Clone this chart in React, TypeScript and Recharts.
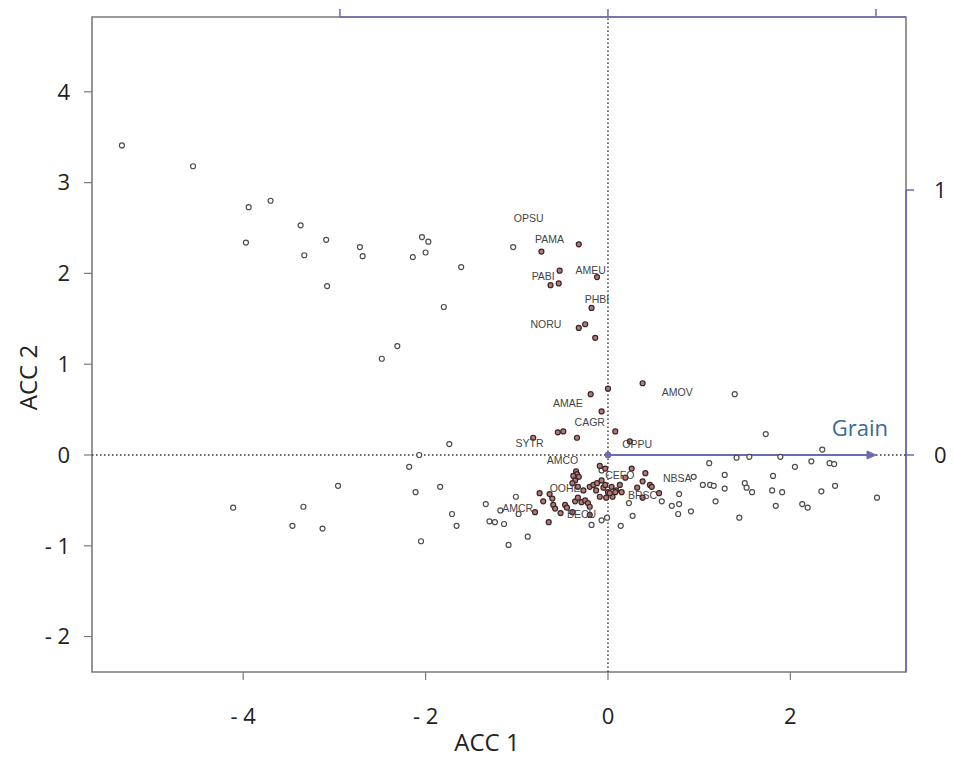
import React from 'react';
import { ScatterChart, Scatter, XAxis, YAxis, ReferenceLine, ReferenceArea, Label } from 'recharts';

// ---- data ----
const grayPoints = [
  { x: -5.33, y: 3.41 }, { x: -4.55, y: 3.18 }, { x: -3.94, y: 2.73 }, { x: -3.70, y: 2.80 },
  { x: -3.97, y: 2.34 }, { x: -3.37, y: 2.53 }, { x: -3.33, y: 2.20 }, { x: -3.09, y: 2.37 },
  { x: -3.08, y: 1.86 }, { x: -2.72, y: 2.29 }, { x: -2.69, y: 2.19 }, { x: -2.14, y: 2.18 },
  { x: -2.04, y: 2.40 }, { x: -1.97, y: 2.35 }, { x: -2.00, y: 2.23 }, { x: -1.61, y: 2.07 },
  { x: -1.80, y: 1.63 }, { x: -2.31, y: 1.20 }, { x: -2.48, y: 1.06 }, { x: -1.04, y: 2.29 },
  { x: -1.74, y: 0.12 }, { x: -2.07, y: 0.0 }, { x: -2.18, y: -0.13 }, { x: -2.11, y: -0.41 },
  { x: -1.84, y: -0.35 }, { x: -2.96, y: -0.34 }, { x: -4.11, y: -0.58 }, { x: -3.34, y: -0.57 },
  { x: -3.46, y: -0.78 }, { x: -3.13, y: -0.81 }, { x: -2.05, y: -0.95 }, { x: -1.71, y: -0.65 },
  { x: -1.66, y: -0.78 }, { x: -1.34, y: -0.54 }, { x: -1.18, y: -0.61 }, { x: -1.01, y: -0.46 },
  { x: -0.98, y: -0.65 }, { x: -1.30, y: -0.73 }, { x: -1.24, y: -0.74 }, { x: -1.14, y: -0.76 },
  { x: -0.88, y: -0.90 }, { x: -1.09, y: -0.99 },
  { x: 1.39, y: 0.67 }, { x: 1.73, y: 0.23 }, { x: 2.35, y: 0.06 }, { x: 1.41, y: -0.03 },
  { x: 1.55, y: -0.02 }, { x: 1.89, y: -0.02 }, { x: 1.11, y: -0.09 }, { x: 2.23, y: -0.07 },
  { x: 2.43, y: -0.09 }, { x: 2.48, y: -0.10 }, { x: 2.05, y: -0.13 }, { x: 1.28, y: -0.22 },
  { x: 1.81, y: -0.23 }, { x: 2.49, y: -0.34 }, { x: 0.94, y: -0.24 }, { x: 1.04, y: -0.33 },
  { x: 1.12, y: -0.33 }, { x: 1.16, y: -0.34 }, { x: 1.50, y: -0.31 }, { x: 1.52, y: -0.36 },
  { x: 1.58, y: -0.41 }, { x: 1.28, y: -0.37 }, { x: 1.80, y: -0.39 }, { x: 1.91, y: -0.41 },
  { x: 2.34, y: -0.40 }, { x: 2.95, y: -0.47 }, { x: 0.78, y: -0.43 }, { x: 0.78, y: -0.54 },
  { x: 0.70, y: -0.56 }, { x: 1.18, y: -0.51 }, { x: 1.84, y: -0.56 }, { x: 2.13, y: -0.54 },
  { x: 2.19, y: -0.58 }, { x: 0.77, y: -0.65 }, { x: 0.91, y: -0.62 }, { x: 0.27, y: -0.67 },
  { x: 1.44, y: -0.69 }, { x: 0.14, y: -0.78 }, { x: 0.59, y: -0.51 }, { x: -0.07, y: -0.17 },
  { x: -0.07, y: -0.72 }, { x: -0.01, y: -0.69 }, { x: -0.18, y: -0.77 }, { x: 0.23, y: -0.53 },
];

const redPoints = [
  { x: -0.73, y: 2.24 }, { x: -0.32, y: 2.32 }, { x: -0.53, y: 2.03 }, { x: -0.54, y: 1.89 },
  { x: -0.63, y: 1.87 }, { x: -0.12, y: 1.96 }, { x: -0.18, y: 1.62 }, { x: -0.25, y: 1.44 },
  { x: -0.32, y: 1.40 }, { x: -0.14, y: 1.29 },
  { x: 0.38, y: 0.79 }, { x: 0.0, y: 0.73 }, { x: -0.19, y: 0.67 }, { x: -0.07, y: 0.48 },
  { x: 0.08, y: 0.26 }, { x: -0.55, y: 0.25 }, { x: -0.49, y: 0.26 }, { x: -0.34, y: 0.19 },
  { x: -0.82, y: 0.19 }, { x: 0.24, y: 0.15 },
  { x: -0.09, y: -0.12 }, { x: -0.03, y: -0.15 }, { x: -0.35, y: -0.18 }, { x: -0.34, y: -0.21 },
  { x: -0.38, y: -0.23 }, { x: -0.32, y: -0.24 }, { x: -0.36, y: -0.28 }, { x: -0.39, y: -0.31 },
  { x: -0.33, y: -0.35 }, { x: -0.27, y: -0.39 }, { x: -0.20, y: -0.35 }, { x: -0.16, y: -0.33 },
  { x: -0.12, y: -0.31 }, { x: -0.09, y: -0.46 }, { x: -0.13, y: -0.39 }, { x: -0.05, y: -0.36 },
  { x: 0.0, y: -0.41 }, { x: 0.04, y: -0.35 }, { x: 0.09, y: -0.39 }, { x: -0.02, y: -0.47 },
  { x: 0.05, y: -0.46 }, { x: 0.02, y: -0.42 }, { x: 0.08, y: -0.41 }, { x: -0.03, y: -0.33 },
  { x: -0.07, y: -0.28 }, { x: 0.13, y: -0.33 }, { x: 0.15, y: -0.41 },
  { x: -0.75, y: -0.42 }, { x: -0.71, y: -0.51 }, { x: -0.64, y: -0.43 }, { x: -0.61, y: -0.48 },
  { x: -0.60, y: -0.55 }, { x: -0.58, y: -0.59 }, { x: -0.52, y: -0.64 }, { x: -0.47, y: -0.55 },
  { x: -0.45, y: -0.58 }, { x: -0.36, y: -0.51 }, { x: -0.33, y: -0.47 }, { x: -0.29, y: -0.52 },
  { x: -0.25, y: -0.50 }, { x: -0.22, y: -0.53 }, { x: -0.20, y: -0.57 }, { x: -0.39, y: -0.63 },
  { x: -0.20, y: -0.66 }, { x: -0.65, y: -0.74 }, { x: -0.80, y: -0.63 },
  { x: 0.26, y: -0.15 }, { x: 0.41, y: -0.20 }, { x: 0.38, y: -0.29 }, { x: 0.32, y: -0.36 },
  { x: 0.46, y: -0.33 }, { x: 0.48, y: -0.35 }, { x: 0.56, y: -0.42 }, { x: 0.38, y: -0.47 },
  { x: 0.19, y: -0.25 },
];

const speciesLabels = [
  { name: 'OPSU', x: -0.87, y: 2.61 }, { name: 'PAMA', x: -0.64, y: 2.38 },
  { name: 'PABI', x: -0.71, y: 1.97 }, { name: 'AMEU', x: -0.19, y: 2.04 },
  { name: 'PHBI', x: -0.12, y: 1.72 }, { name: 'NORU', x: -0.68, y: 1.44 },
  { name: 'AMOV', x: 0.76, y: 0.69 }, { name: 'AMAE', x: -0.44, y: 0.57 },
  { name: 'CAGR', x: -0.20, y: 0.36 }, { name: 'SYTR', x: -0.86, y: 0.13 },
  { name: 'OPPU', x: 0.32, y: 0.12 }, { name: 'AMCO', x: -0.50, y: -0.06 },
  { name: 'CEFO', x: 0.13, y: -0.22 }, { name: 'NBSA', x: 0.76, y: -0.25 },
  { name: 'OOHE', x: -0.47, y: -0.36 }, { name: 'BRSC', x: 0.38, y: -0.44 },
  { name: 'AMCR', x: -0.99, y: -0.58 }, { name: 'BECU', x: -0.29, y: -0.65 },
];

const xTicks = [-4, -2, 0, 2];
const yTicks = [-2, -1, 0, 1, 2, 3, 4];
const topTicks = [-1, 0, 1];
const rightTicks = [0, 1];
const grainOrigin = [{ x: 0, y: 0 }];
const grainVector = [{ x: 0, y: 0 }, { x: 1, y: 0 }];

const X_DOMAIN: [number, number] = [-5.658, 3.268];
const Y_DOMAIN: [number, number] = [-2.39, 4.824];
const TOP_DOMAIN: [number, number] = [-1.925, 1.112];
const RIGHT_DOMAIN: [number, number] = [-0.819, 1.653];

const BLUE = '#6b6bb3';
const GRAY = '#7a7a7a';
const FONT = '"Open Sans", "Liberation Sans", sans-serif';

const fmt = (v: number) => (v < 0 ? `- ${Math.abs(v)}` : `${v}`);

const GrayDot = (p: any) => (
  <circle cx={p.cx} cy={p.cy} r={2.5} fill="#ffffff" stroke="#4d4d4d" strokeWidth={1.2} />
);
const RedDot = (p: any) => (
  <circle cx={p.cx} cy={p.cy} r={2.5} fill="#b47a7a" stroke="#3a2424" strokeWidth={1.2} />
);
const OriginDot = (p: any) => <circle cx={p.cx} cy={p.cy} r={3} fill={BLUE} stroke={BLUE} />;
const SpeciesText = (p: any) => (
  <text
    x={p.cx}
    y={p.cy}
    textAnchor="middle"
    dominantBaseline="central"
    fontSize={10.5}
    fontFamily='"Liberation Sans", Arial, sans-serif'
    fill="#444"
  >
    {p.payload.name}
  </text>
);

const GrainArrow = (p: any) => {
  const { x1, y1, x2, y2 } = p;
  return (
    <g>
      <line x1={x1} y1={y1} x2={x2 - 6} y2={y2} stroke={BLUE} strokeWidth={2} />
      <path d={`M${x2 - 9},${y2 - 4} L${x2},${y2} L${x2 - 9},${y2 + 4} Z`} fill={BLUE} stroke={BLUE} strokeWidth={1} />
      <text x={x2 + 12} y={y2 - 19} textAnchor="end" fill="#3a6a9a" fontSize={22} fontFamily={FONT}>
        Grain
      </text>
    </g>
  );
};

export default function App() {
  return (
    <div style={{ width: 954, height: 761, margin: '-8px 0 -8px -8px' }}>
      <ScatterChart
        width={954}
        height={761}
        margin={{ top: 12, right: 8, bottom: 59, left: 32 }}
        style={{ background: '#fff' }}
      >
        <XAxis
          xAxisId="main"
          type="number"
          dataKey="x"
          domain={X_DOMAIN}
          allowDataOverflow
          ticks={xTicks}
          tickFormatter={fmt}
          height={30}
          axisLine={false}
          tickLine={{ stroke: GRAY, strokeWidth: 1.2 }}
          tickSize={8}
          tickMargin={28}
          tick={{ fill: '#222', fontSize: 22, fontFamily: FONT }}
        >
          <Label
            content={(props: any) => {
              const vb = props.viewBox || { x: 92, y: 672, width: 814 };
              return (
                <text x={vb.x + vb.width / 2 - 12} y={vb.y + 79} textAnchor="middle" fill="#222" fontSize={24} fontFamily={FONT}>
                  ACC 1
                </text>
              );
            }}
          />
        </XAxis>
        <YAxis
          yAxisId="main"
          type="number"
          dataKey="y"
          domain={Y_DOMAIN}
          allowDataOverflow
          ticks={yTicks}
          tickFormatter={fmt}
          width={60}
          axisLine={false}
          tickLine={{ stroke: GRAY, strokeWidth: 1.2 }}
          tickSize={8}
          tickMargin={14}
          tick={{ fill: '#222', fontSize: 22, fontFamily: FONT }}
        >
          <Label
            content={(props: any) => {
              const vb = props.viewBox || { x: 32, y: 17, width: 60, height: 655 };
              const cx = vb.x - 5;
              const cy = vb.y + vb.height / 2 + 33;
              return (
                <text
                  x={cx}
                  y={cy}
                  transform={`rotate(-90 ${cx} ${cy})`}
                  textAnchor="middle"
                  dominantBaseline="central"
                  fill="#222"
                  fontSize={24}
                  fontFamily={FONT}
                >
                  ACC 2
                </text>
              );
            }}
          />
        </YAxis>
        <XAxis
          xAxisId="top"
          orientation="top"
          type="number"
          dataKey="x"
          domain={TOP_DOMAIN}
          allowDataOverflow
          ticks={topTicks}
          tickFormatter={() => ''}
          height={5}
          axisLine={false}
          tickLine={{ stroke: BLUE, strokeWidth: 1.5 }}
          tickSize={8}
        />
        <YAxis
          yAxisId="right"
          orientation="right"
          type="number"
          dataKey="y"
          domain={RIGHT_DOMAIN}
          allowDataOverflow
          ticks={rightTicks}
          width={40}
          axisLine={false}
          tickLine={{ stroke: BLUE, strokeWidth: 1.5 }}
          tickSize={8}
          tickMargin={20}
          tick={{ fill: '#222', fontSize: 22, fontFamily: FONT, textAnchor: 'start' }}
        />

        <ReferenceArea
          xAxisId="main"
          yAxisId="main"
          x1={X_DOMAIN[0]}
          x2={X_DOMAIN[1]}
          y1={Y_DOMAIN[0]}
          y2={Y_DOMAIN[1]}
          fill="none"
          fillOpacity={0}
          stroke={GRAY}
          strokeWidth={1.6}
          ifOverflow="visible"
        />
        <ReferenceLine
          xAxisId="top"
          yAxisId="right"
          segment={[{ x: -1, y: RIGHT_DOMAIN[1] }, { x: TOP_DOMAIN[1], y: RIGHT_DOMAIN[1] }]}
          stroke={BLUE}
          strokeWidth={1.6}
          ifOverflow="visible"
        />
        <ReferenceLine
          xAxisId="top"
          yAxisId="right"
          segment={[{ x: TOP_DOMAIN[1], y: RIGHT_DOMAIN[0] }, { x: TOP_DOMAIN[1], y: 1 }]}
          stroke={BLUE}
          strokeWidth={1.6}
          ifOverflow="visible"
        />
        <ReferenceLine xAxisId="main" yAxisId="main" x={0} stroke="#333" strokeWidth={1.4} strokeDasharray="1.5 2.5" />
        <ReferenceLine xAxisId="main" yAxisId="main" y={0} stroke="#333" strokeWidth={1.4} strokeDasharray="1.5 2.5" />
        <ReferenceLine
          xAxisId="top"
          yAxisId="right"
          segment={grainVector}
          stroke={BLUE}
          ifOverflow="visible"
          shape={GrainArrow}
        />

        <Scatter xAxisId="main" yAxisId="main" data={grayPoints} shape={GrayDot} isAnimationActive={false} />
        <Scatter xAxisId="main" yAxisId="main" data={redPoints} shape={RedDot} isAnimationActive={false} />
        <Scatter xAxisId="main" yAxisId="main" data={grainOrigin} shape={OriginDot} isAnimationActive={false} />
        <Scatter xAxisId="main" yAxisId="main" data={speciesLabels} shape={SpeciesText} isAnimationActive={false} />
      </ScatterChart>
    </div>
  );
}
